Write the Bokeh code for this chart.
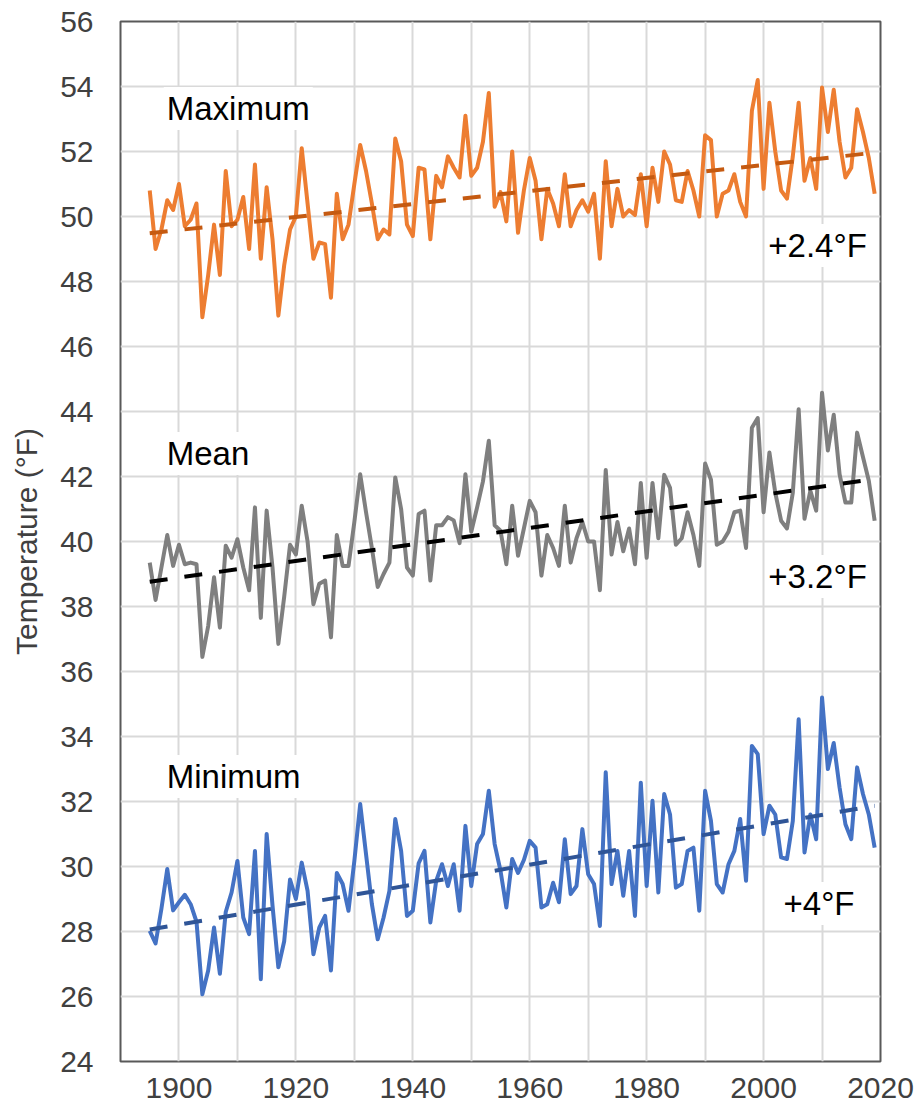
import numpy as np
from bokeh.plotting import figure
from bokeh.models import Range1d, FixedTicker, Label
from bokeh.embed import file_html
from bokeh.resources import INLINE

# ---------------- data ----------------
years = list(range(1895, 2020))

max_temp = [
    50.8, 49.0, 49.6, 50.5, 50.2, 51.0, 49.7, 49.9, 50.4, 46.9,   # 1895-1904
    48.2, 49.75, 48.2, 51.4, 49.7, 49.9, 50.6, 49.0, 51.6, 48.7,  # 1905-1914
    50.9, 49.3, 46.95, 48.5, 49.6, 50.0, 52.1, 50.4, 48.7, 49.2,  # 1915-1924
    49.15, 47.5, 50.7, 49.3, 49.75, 51.0, 52.2, 51.4, 50.4, 49.3, # 1925-1934
    49.6, 49.45, 52.4, 51.7, 49.75, 49.4, 51.5, 51.45, 49.3, 51.25,  # 1935-1944
    50.9, 51.85, 51.5, 51.2, 53.1, 51.25, 51.5, 52.3, 53.8, 50.3,    # 1945-1954
    50.75, 49.85, 52.0, 49.5, 50.8, 51.8, 51.1, 49.3, 50.85, 50.4,   # 1955-1964
    49.7, 51.3, 49.7, 50.2, 50.5, 50.15, 50.7, 48.7, 51.7, 49.7,     # 1965-1974
    50.85, 50.0, 50.2, 50.05, 51.3, 49.7, 51.5, 50.45, 52.0, 51.6,   # 1975-1984
    50.5, 50.45, 51.4, 50.8, 50.0, 52.5, 52.35, 50.0, 50.7, 50.8,    # 1985-1994
    51.3, 50.45, 50.0, 53.25, 54.2, 50.85, 53.5, 52.0, 50.8, 50.55,  # 1995-2004
    51.85, 53.5, 51.1, 51.8, 50.85, 53.97, 52.6, 53.9, 52.3, 51.2,   # 2005-2014
    51.5, 53.3, 52.6, 51.8, 50.7,                                    # 2015-2019
]

mean_temp = [
    39.35, 38.2, 39.2, 40.2, 39.25, 39.9, 39.3, 39.35, 39.3, 36.45,  # 1895-1904
    37.4, 38.9, 37.35, 39.87, 39.5, 40.07, 39.2, 38.5, 41.05, 37.65, # 1905-1914
    40.95, 39.2, 36.85, 38.3, 39.9, 39.6, 41.1, 40.0, 38.07, 38.7,   # 1915-1924
    38.8, 37.05, 40.2, 39.25, 39.25, 40.6, 42.07, 40.9, 39.8, 38.6,  # 1925-1934
    39.0, 39.35, 41.97, 41.0, 39.2, 38.95, 40.85, 40.95, 38.8, 40.5, # 1935-1944
    40.5, 40.75, 40.65, 39.95, 42.07, 40.3, 41.05, 41.85, 43.1, 40.5,# 1945-1954
    40.33, 39.3, 41.1, 39.56, 40.4, 41.25, 40.9, 38.95, 40.2, 39.8,  # 1955-1964
    39.25, 41.1, 39.35, 40.1, 40.6, 40.0, 40.0, 38.5, 42.2, 39.6,    # 1965-1974
    40.6, 39.7, 40.4, 39.3, 41.8, 39.5, 41.8, 40.1, 42.05, 41.65,    # 1975-1984
    39.9, 40.1, 40.9, 40.2, 39.25, 42.4, 41.9, 39.9, 40.0, 40.3,     # 1985-1994
    40.9, 40.95, 39.8, 43.5, 43.8, 40.9, 42.74, 41.5, 40.64, 40.4,   # 1995-2004
    41.5, 44.07, 40.7, 41.56, 40.95, 44.58, 42.8, 43.9, 42.07, 41.2, # 2005-2014
    41.2, 43.35, 42.6, 41.87, 40.64,                                 # 2015-2019
]

min_temp = [
    28.02, 27.63, 28.7, 29.92, 28.65, 28.9, 29.13, 28.84, 28.3, 26.07,  # 1895-1904
    26.8, 28.12, 26.7, 28.6, 29.2, 30.17, 28.43, 27.92, 30.48, 26.53,   # 1905-1914
    31.0, 28.8, 26.9, 27.7, 29.6, 29.0, 30.12, 29.25, 27.3, 28.12,      # 1915-1924
    28.48, 26.8, 29.8, 29.46, 28.64, 30.17, 31.92, 30.38, 28.84, 27.76, # 1925-1934
    28.43, 29.25, 31.46, 30.48, 28.48, 28.64, 30.1, 30.48, 28.28, 29.56,# 1935-1944
    30.07, 29.4, 30.07, 28.64, 31.25, 29.4, 30.69, 31.0, 32.33, 30.69,  # 1945-1954
    29.87, 28.74, 30.23, 29.8, 30.2, 30.79, 30.58, 28.74, 28.84, 29.5,  # 1955-1964
    28.9, 30.84, 29.15, 29.4, 31.15, 29.76, 29.46, 28.17, 32.9, 29.46,  # 1965-1974
    30.48, 29.1, 30.48, 28.48, 32.58, 29.4, 32.02, 29.2, 32.23, 31.6,   # 1975-1984
    29.35, 29.46, 30.48, 30.58, 28.64, 32.33, 31.4, 29.46, 29.2, 30.07, # 1985-1994
    30.48, 31.46, 29.56, 33.71, 33.46, 31.0, 31.87, 31.6, 30.28, 30.23, # 1995-2004
    31.4, 34.53, 30.43, 31.6, 30.84, 35.2, 33.0, 33.8, 32.43, 31.3,     # 2005-2014
    30.84, 33.05, 32.23, 31.6, 30.58,                                   # 2015-2019
]

series_names = ["Maximum", "Mean", "Minimum"]
change_labels = ["+2.4°F", "+3.2°F", "+4°F"]
x_tick_labels = [1900, 1920, 1940, 1960, 1980, 2000, 2020]
x_grid_years = list(range(1900, 2020, 10))
y_ticks = list(range(24, 57, 2))

# ---------------- figure ----------------
FONT = "Liberation Sans"
p = figure(width=915, height=1110,
           x_range=Range1d(1890, 2020), y_range=Range1d(24, 56),
           output_backend="svg", toolbar_location=None,
           min_border_left=120, min_border_right=35,
           min_border_top=21, min_border_bottom=49,
           background_fill_color="white", border_fill_color="white")

p.outline_line_color = "#595959"
p.outline_line_width = 2

p.xaxis.ticker = FixedTicker(ticks=x_tick_labels)
p.yaxis.ticker = FixedTicker(ticks=y_ticks)
p.xgrid.ticker = FixedTicker(ticks=x_grid_years)
p.ygrid.ticker = FixedTicker(ticks=y_ticks)
for g in (p.xgrid, p.ygrid):
    g.grid_line_color = "#d9d9d9"
    g.grid_line_width = 2

for ax in (p.xaxis, p.yaxis):
    ax.axis_line_color = None
    ax.major_tick_line_color = None
    ax.minor_tick_line_color = None
    ax.major_label_text_font = FONT
    ax.major_label_text_font_size = "30px"
    ax.major_label_text_color = "#404040"
p.xaxis.major_label_standoff = 10
p.yaxis.major_label_standoff = 21
p.yaxis.axis_label = "Temperature (°F)"
p.yaxis.axis_label_text_font = FONT
p.yaxis.axis_label_text_font_size = "30px"
p.yaxis.axis_label_text_font_style = "normal"
p.yaxis.axis_label_text_color = "#404040"
p.yaxis.axis_label_standoff = 14

series = [max_temp, mean_temp, min_temp]
colors = ["#ED7D31", "#7F7F7F", "#4472C4"]
trend_colors = ["#C55A11", "#000000", "#2F5597"]

yrs = np.array(years, dtype=float)
for vals, c in zip(series, colors):
    p.line(years, vals, line_color=c, line_width=4, line_join="round")
for vals, tc in zip(series, trend_colors):
    slope, icpt = np.polyfit(yrs, np.array(vals), 1)
    ends = [years[0], years[-1]]
    p.line(ends, [slope * e + icpt for e in ends], line_color=tc,
           line_width=4, line_dash="18 17")

# series name labels (left) and change labels (right)
name_pos = [(1897.4, 53.32), (1897.4, 42.71), (1897.4, 32.77)]
chg_pos = [(2000.3, 49.11), (2000.3, 38.92), (2002.9, 28.86)]
for txt, (x, y) in zip(series_names + change_labels, name_pos + chg_pos):
    p.add_layout(Label(x=x, y=y, text=txt, text_font=FONT, text_font_size="33px",
                       text_color="black", text_baseline="alphabetic",
                       background_fill_color="white", padding=3))

open("out.html", "w").write(file_html(p, INLINE))
